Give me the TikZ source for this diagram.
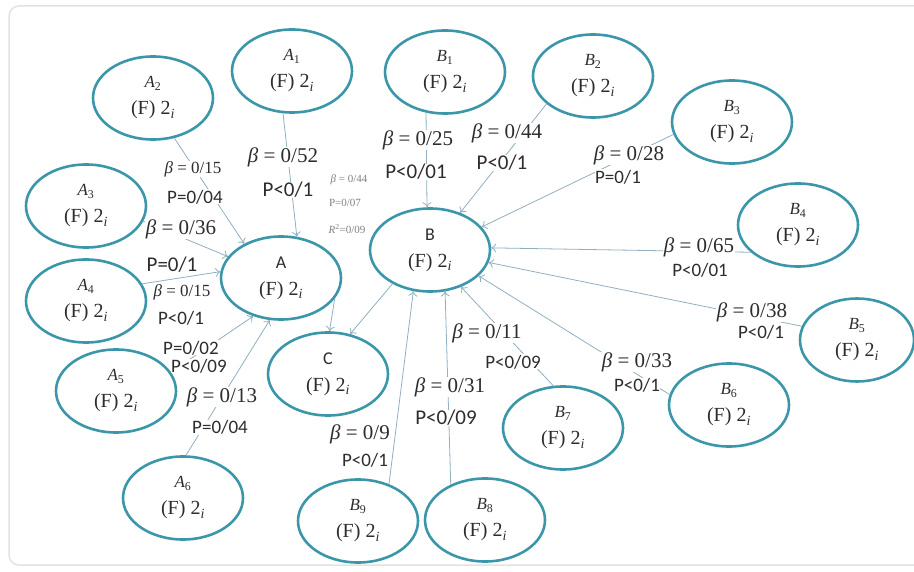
\documentclass[tikz,border=0pt]{standalone}
\usepackage{fontspec}
\setmainfont{Liberation Serif}
\newfontfamily\lblsans{Carlito}
\usetikzlibrary{shapes.geometric,arrows.meta}
\definecolor{ell}{RGB}{60,150,170}
\definecolor{edg}{RGB}{145,175,192}
\definecolor{frm}{RGB}{226,226,226}
\definecolor{txt}{RGB}{45,45,45}
\newcommand{\nm}[2]{{\fontsize{17}{17}\selectfont\itshape #1\textsubscript{\upshape #2}}\\(F) 2\textsubscript{\itshape i}}
\newcommand{\nmc}[1]{{\lblsans\fontsize{18}{18}\selectfont #1}\\(F) 2\textsubscript{\itshape i}}
\newcommand{\bet}[1]{\textit{β} = #1}
\tikzset{
 ov/.style={ellipse, draw=ell, line width=2.6pt, minimum width=120pt, minimum height=83pt, inner sep=0pt, align=center, text=txt, font=\fontsize{20}{27}\selectfont},
 conn/.style={draw=edg, line width=0.8pt, -{To[length=5pt,width=9pt]}},
 bl/.style={fill=white, inner sep=0.5pt, text=txt, font=\fontsize{21}{22}\selectfont},
 bls/.style={fill=white, inner sep=0.5pt, text=txt, font=\fontsize{17}{18}\selectfont},
 pl/.style={fill=white, inner sep=0.5pt, text=txt, font=\lblsans\fontsize{21}{22}\selectfont},
 pls/.style={fill=white, inner sep=0.5pt, text=txt, font=\lblsans\fontsize{19}{20}\selectfont},
 minilbl/.style={fill=white, inner sep=0.3pt, text=txt!60, font=\fontsize{11}{12}\selectfont},
}
\begin{document}
\begin{tikzpicture}[x=1pt,y=-1pt]
\useasboundingbox (0,0) rectangle (914,572);
\draw[frm, line width=1.5pt, rounded corners=10pt] (918,6) -- (9,6) -- (9,565) -- (918,565);

% nodes
\node[ov] (A)  at (281,278) {\nmc{A}};
\node[ov] (B)  at (430,250) {\nmc{B}};
\node[ov] (C)  at (328,374) {\nmc{C}};
\node[ov] (A1) at (292,71)  {\nm{A}{1}};
\node[ov] (A2) at (153,98)  {\nm{A}{2}};
\node[ov] (A3) at (86,206)  {\nm{A}{3}};
\node[ov] (A4) at (86,301)  {\nm{A}{4}};
\node[ov] (A5) at (116,391) {\nm{A}{5}};
\node[ov] (A6) at (183,498) {\nm{A}{6}};
\node[ov] (B1) at (445,72)  {\nm{B}{1}};
\node[ov] (B2) at (593,76)  {\nm{B}{2}};
\node[ov] (B3) at (732,122) {\nm{B}{3}};
\node[ov] (B4) at (798,225) {\nm{B}{4}};
\node[ov, minimum width=114pt] (B5) at (857,340) {\nm{B}{5}};
\node[ov] (B6) at (729,405) {\nm{B}{6}};
\node[ov] (B7) at (563,428) {\nm{B}{7}};
\node[ov] (B8) at (485,520) {\nm{B}{8}};
\node[ov] (B9) at (358,521) {\nm{B}{9}};

% connectors
\draw[conn] (A1.-102) -- (A.69);
\draw[conn] (A2.-62) -- (A.137);
\draw[conn] (A3.-15) -- (A.158);
\draw[conn] (A4.17) -- (A.174);
\draw[conn] (A5.19) -- (A.-126);
\draw[conn] (A6.86) -- (A.-105);
\draw[conn] (A.-21) -- (C.88);
\draw[conn] (B.-138) -- (C.61);
\draw[conn] (B1.-115) -- (B.94);
\draw[conn] (B2.-149) -- (B.51);
\draw[conn] (B3.-168) -- (B.24);
\draw[conn] (B4.-150) -- (B.2);
\draw[conn] (B5.166) -- (B.-12);
\draw[conn] (B6.170) -- (B.-28);
\draw[conn] (B7.103) -- (B.-50);
\draw[conn] (B8.134) -- (B.-70);
\draw[conn] (B9.50) -- (B.-112);

% labels
\node[bl]  (l1a) at (283,157) {\bet{0/52}};
\node[pl]  (l1b) at (288,190) {P<0/1};
\node[bls] (l2a) at (193,169) {\bet{0/15}};
\node[pls] (l2b) at (195,197) {P=0/04};
\node[bl]  (l3a) at (181,229) {\bet{0/36}};
\node[pl]  (l3b) at (172,265) {P=0/1};
\node[bls] (l4a) at (182,292) {\bet{0/15}};
\node[pls] (l4b) at (181,318) {P<0/1};
\node[pls] (l5a) at (191,348) {P=0/02};
\node[pls] (l5b) at (199,366) {P<0/09};
\node[bl]  (l6a) at (222,397) {\bet{0/13}};
\node[pls] (l6b) at (220,427) {P=0/04};
\node[minilbl] (m1) at (349,180) {\bet{0/44}};
\node[minilbl] (m2) at (345,203) {P=0/07};
\node[minilbl] (m3) at (347,229) {\textit{R}\textsuperscript{2}=0/09};
\node[bl]  (b1a) at (418,140) {\bet{0/25}};
\node[pl]  (b1b) at (416,172) {P<0/01};
\node[bl]  (b2a) at (507,133) {\bet{0/44}};
\node[pl]  (b2b) at (502,163) {P<0/1};
\node[bl]  (b3a) at (629,155) {\bet{0/28}};
\node[pls] (b3b) at (618,177) {P=0/1};
\node[bl]  (b4a) at (699,247) {\bet{0/65}};
\node[pls] (b4b) at (700,270) {P<0/01};
\node[bl]  (b5a) at (752,312) {\bet{0/38}};
\node[pls] (b5b) at (761,332) {P<0/1};
\node[bl]  (b6a) at (637,362) {\bet{0/33}};
\node[pls] (b6b) at (637,385) {P<0/1};
\node[bl]  (b7a) at (487,333) {\bet{0/11}};
\node[pls] (b7b) at (513,362) {P<0/09};
\node[bl]  (b8a) at (450,387) {\bet{0/31}};
\node[pl]  (b8b) at (446,418) {P<0/09};
\node[bl]  (b9a) at (360,434) {\bet{0/9}};
\node[pls] (b9b) at (365,460) {P<0/1};
\end{tikzpicture}
\end{document}
